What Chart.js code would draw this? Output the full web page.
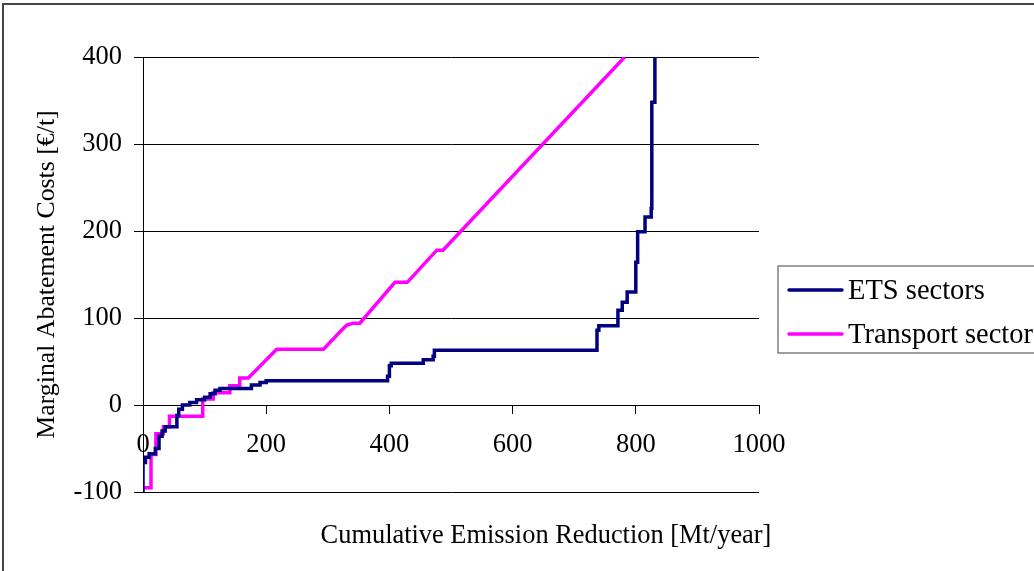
<!DOCTYPE html>
<html>
<head>
<meta charset="utf-8">
<script src="https://cdn.jsdelivr.net/npm/chart.js@4/dist/chart.umd.min.js"></script>
<style>
html, body { margin: 0; padding: 0; background: #fff; }
</style>
</head>
<body>
<canvas id="macChart" width="1034" height="571"></canvas>
<script>
// ETS sectors: cumulative reduction where a new cost level starts, and that level
const etsX = [0, 0, 4, 10, 20, 26, 31, 36, 55, 58, 64, 76, 87, 100, 109, 117, 125, 176, 190, 200,
              397, 400, 403, 455, 471, 473, 737, 740, 771, 778, 786, 800, 803, 815, 825, 826, 831];
const etsY = [-100, -66, -60, -56, -50, -36, -30, -25, -12, -5, 0, 3, 6, 9, 13, 17, 19, 23, 26, 28,
              33, 45, 48, 52, 56, 63, 86, 91, 109, 118, 130, 164, 199, 216, 226, 348, 400];

// Transport sector: vertices of the curve
const trX = [0, 13, 13, 21, 21, 33, 33, 43, 43, 97, 97, 114, 114, 141, 141, 157, 157, 171,
             217, 293, 325, 331, 341, 352, 409, 429, 477, 487, 782];
const trY = [-95, -95, -57, -57, -33, -33, -25, -25, -13, -13, 7, 7, 14, 14, 22, 22, 31, 31,
             64, 64, 88, 92, 94, 94, 141, 141, 178, 178, 400];

const seriesNames = ['ETS sectors', 'Transport sector'];
const seriesColors = ['#000080', '#FF00FF'];

const xTitle = 'Cumulative Emission Reduction [Mt/year]';
const yTitle = 'Marginal Abatement Costs [€/t]';

const serif = '"Liberation Serif", "Times New Roman", serif';

function toPoints(xs, ys) {
    return xs.map((x, i) => ({ x: x, y: ys[i] }));
}

// frame, x title and the boxed legend on the right
const extras = {
    id: 'extras',
    afterDraw(chart) {
        const ctx = chart.ctx;
        ctx.save();
        ctx.strokeStyle = '#444';
        ctx.lineWidth = 2;
        ctx.beginPath();
        ctx.moveTo(3, 600); ctx.lineTo(3, 4); ctx.lineTo(1100, 4);
        ctx.stroke();

        ctx.fillStyle = '#000';
        ctx.font = '26.4px ' + serif;
        ctx.textAlign = 'center';
        ctx.textBaseline = 'middle';
        ctx.fillText(xTitle, 546, 536);

        ctx.strokeStyle = '#808080';
        ctx.lineWidth = 1.5;
        ctx.strokeRect(778, 266, 400, 87);
        ctx.font = '28.5px ' + serif;
        ctx.textAlign = 'left';
        const rows = [290, 334];
        chart.data.datasets.forEach((ds, i) => {
            ctx.strokeStyle = ds.borderColor;
            ctx.lineWidth = 3.5;
            ctx.lineCap = 'round';
            ctx.beginPath();
            ctx.moveTo(789, rows[i]); ctx.lineTo(842, rows[i]);
            ctx.stroke();
            ctx.fillStyle = '#000';
            ctx.fillText(ds.label, 848, rows[i] + 2);
        });
        ctx.restore();
    }
};

var ctx = document.getElementById('macChart');
var macChart = new Chart(ctx, {
    type: 'line',
    data: {
        datasets: [
            {
                label: seriesNames[0],
                data: toPoints(etsX, etsY),
                borderColor: seriesColors[0],
                backgroundColor: seriesColors[0],
                borderWidth: 3.5,
                stepped: true,
                pointRadius: 0,
                fill: false
            },
            {
                label: seriesNames[1],
                data: toPoints(trX, trY),
                borderColor: seriesColors[1],
                backgroundColor: seriesColors[1],
                borderWidth: 3.5,
                pointRadius: 0,
                fill: false
            }
        ]
    },
    options: {
        responsive: false,
        animation: false,
        layout: { padding: { top: 57, right: 275, bottom: 79, left: 0 } },
        plugins: {
            legend: { display: false },
            tooltip: { enabled: false }
        },
        scales: {
            x: {
                type: 'linear',
                min: 0,
                max: 1000,
                position: { y: 0 },
                ticks: {
                    stepSize: 200, color: '#000', font: { family: serif, size: 26.5 }, padding: 16, maxRotation: 0,
                    callback: function (v) { return String(v); }
                },
                grid: { drawOnChartArea: false, drawTicks: true, tickLength: 8, color: '#000' },
                border: { color: '#000', width: 1 }
            },
            y: {
                min: -100,
                max: 400,
                ticks: { stepSize: 100, color: '#000', font: { family: serif, size: 26.5 }, padding: 12 },
                grid: { color: '#000', tickLength: 9 },
                border: { color: '#000', width: 1 },
                title: {
                    display: true,
                    text: yTitle,
                    color: '#000',
                    font: { family: serif, size: 25.8 },
                    padding: { top: 32, bottom: 0 }
                },
                afterFit: function (scale) { scale.width = 143; }
            }
        }
    },
    plugins: [extras]
});
</script>
</body>
</html>
